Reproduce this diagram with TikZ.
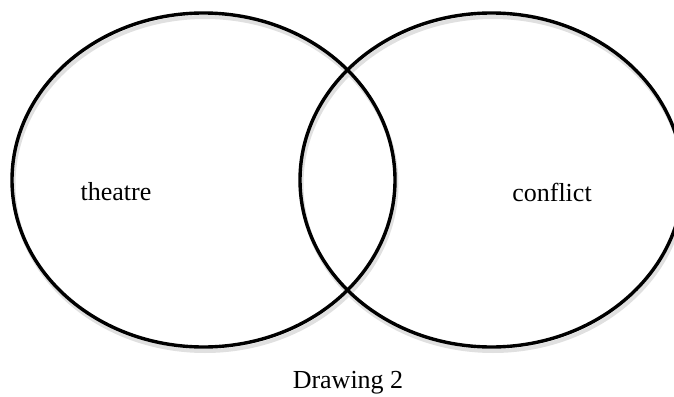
\documentclass[tikz,border=0pt]{standalone}
\usepackage{fontspec}
\setmainfont{Liberation Serif}
\usepackage{tikz}
\usetikzlibrary{shapes.geometric,positioning}
\tikzset{
  set/.style={draw=black,ellipse,line width=3.4pt,minimum width=383pt,minimum height=334pt,inner sep=0pt},
  shade/.style={set,draw=black!12,line width=4pt},
  lab/.style={font=\fontsize{26pt}{30pt}\selectfont,inner sep=0pt},
}
\begin{document}
\begin{tikzpicture}[x=1pt,y=-1pt]
\useasboundingbox (0,0) rectangle (674,396);
\clip (0,0) rectangle (674,396);
% soft shadow under the two sets
\node[shade] at (205,184) {};
\node[shade] at (493,184) {};
\node[set] (theatre) at (203.5,180) {};
\node[set] (conflict) at (491.5,180) {};
\node[lab] (tlab) at (116,192) {theatre};
\node[lab] (clab) at (552,192) {conflict};
\node[lab] (cap) at (348,383) {Drawing 2};
\end{tikzpicture}
\end{document}
